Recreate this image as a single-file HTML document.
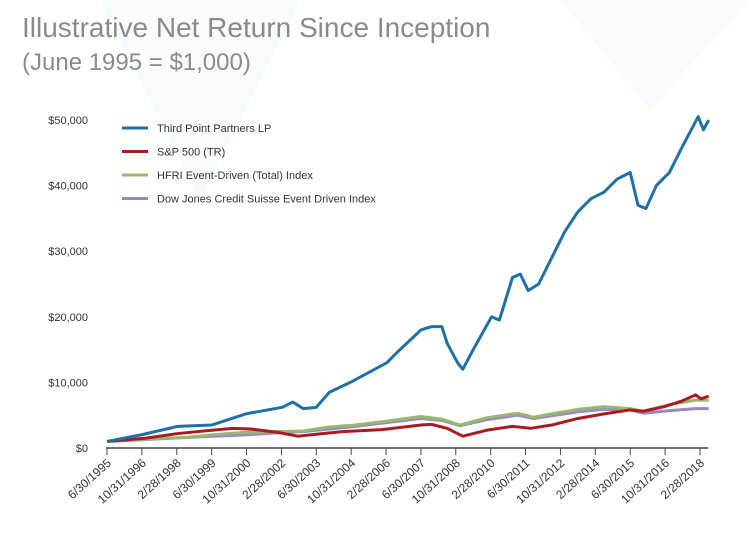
<!DOCTYPE html>
<html><head><meta charset="utf-8"><style>
body{margin:0;background:#fff;}
svg{display:block;font-family:"Liberation Sans",sans-serif;}
</style></head><body>
<svg id="c" width="749" height="533">
<polygon points="100,0 300,0 200,200" fill="#f3f7fb" opacity="0.6"/>
<polygon points="560,0 749,0 650,110" fill="#f3f7fb" opacity="0.6"/>
<text x="22" y="37" font-size="28" fill="#8a8a8a">Illustrative Net Return Since Inception</text>
<text x="22" y="70" font-size="24" fill="#8a8a8a">(June 1995 = $1,000)</text>
<g id="axes"></g><g id="lines"></g><g id="legend"></g>
</svg>
<script>
const yTicks=[0,10000,20000,30000,40000,50000];
const yTickLabels=["$0","$10,000","$20,000","$30,000","$40,000","$50,000"];
const xTickLabels=["6/30/1995","10/31/1996","2/28/1998","6/30/1999","10/31/2000","2/28/2002","6/30/2003","10/31/2004","2/28/2006","6/30/2007","10/31/2008","2/28/2010","6/30/2011","10/31/2012","2/28/2014","6/30/2015","10/31/2016","2/28/2018"];
const seriesNames=["Third Point Partners LP","S&P 500 (TR)","HFRI Event-Driven (Total) Index","Dow Jones Credit Suisse Event Driven Index"];
const tpDates=[1995.5,1996.8,1998.2,1999.5,2000.8,2002.2,2002.6,2003,2003.5,2004,2004.8,2005.5,2006.2,2006.7,2007.5,2007.9,2008.3,2008.5,2008.9,2009.1,2009.5,2010.2,2010.5,2011.0,2011.3,2011.6,2012,2012.5,2013,2013.5,2014,2014.5,2015,2015.5,2015.8,2016.1,2016.5,2017,2017.5,2017.9,2018.1,2018.3,2018.5];
const tpValues=[1000,2000,3300,3500,5200,6200,7000,6000,6200,8500,10000,11500,13000,15000,18000,18500,18500,16000,13000,12000,15000,20000,19500,26000,26500,24000,25000,29000,33000,36000,38000,39000,41000,42000,37000,36500,40000,42000,46000,49000,50500,48500,50000];
const spDates=[1995.5,1997,1998.2,1999.5,2000.3,2001,2002,2002.8,2003.5,2004.5,2006,2007.5,2007.9,2008.5,2009.1,2010,2011,2011.7,2012.5,2013.5,2014.5,2015.5,2016,2016.8,2017.5,2018.0,2018.2,2018.5];
const spValues=[1000,1500,2200,2700,3000,2900,2400,1800,2100,2500,2800,3500,3600,3000,1800,2700,3300,3000,3500,4500,5200,5800,5600,6300,7200,8100,7500,7900];
const hfDates=[1995.5,1997,1998.5,1999.5,2000.8,2002,2003,2004,2005,2006,2007.5,2008.3,2009.0,2010,2011.2,2011.8,2012.5,2013.5,2014.5,2015.5,2016,2017,2018,2018.5];
const hfValues=[1000,1400,1600,2000,2400,2500,2600,3200,3500,4000,4800,4400,3500,4600,5300,4700,5200,5900,6300,6000,5600,6600,7300,7300];
const djDates=[1995.5,1997,1999,2000.8,2002,2003,2005,2007.5,2008.3,2009,2010,2011.2,2011.8,2013.5,2014.5,2015.5,2016,2017,2018,2018.5];
const djValues=[1000,1300,1700,2000,2300,2500,3300,4500,4200,3400,4300,5000,4500,5500,5900,5800,5300,5700,6000,6000];
const NS="http://www.w3.org/2000/svg";
const x=d=>107+(d-1995.5)*12*2.18;
const y=v=>448-v*(328/50000);
function mk(t,a,p){const e=document.createElementNS(NS,t);for(const k in a)e.setAttribute(k,a[k]);p.appendChild(e);return e;}
const axes=document.getElementById('axes'),lines=document.getElementById('lines'),leg=document.getElementById('legend');
yTicks.forEach((v,i)=>{const t=mk('text',{x:88,y:y(v)+4,'font-size':11,fill:'#333','text-anchor':'end'},axes);t.textContent=yTickLabels[i];

});
const base=mk('line',{x1:106,x2:708,y1:448,y2:448,stroke:'#444','stroke-width':1.5},axes);


xTickLabels.forEach((l,i)=>{const xx=x(1995.5+i*16/12);
const tk=mk('line',{x1:xx,x2:xx,y1:448,y2:455,stroke:'#444'},axes);


const t=mk('text',{x:xx+5,y:464,'font-size':12,fill:'#333','text-anchor':'end',transform:`rotate(-42 ${xx+5} 464)`},axes);t.textContent=l;

});
const series=[[djDates,djValues,'#9b87c4'],[hfDates,hfValues,'#98b86e'],[spDates,spValues,'#a81c1f'],[tpDates,tpValues,'#1f6fa8']];
const names=['dj-credit-suisse-line','hfri-line','sp500-line','third-point-line'];
series.forEach((s,i)=>{const p=mk('polyline',{points:s[0].map((d,j)=>x(d)+','+y(s[1][j])).join(' '),fill:'none',stroke:s[2],'stroke-width':3,'stroke-linejoin':'round'},lines);

});
const legCols=['#1f6fa8','#a81c1f','#98b86e','#9b87c4'];
seriesNames.forEach((n,i)=>{const yy=128+i*23.5;
const l=mk('line',{x1:122,x2:148,y1:yy,y2:yy,stroke:legCols[i],'stroke-width':3},leg);


const t=mk('text',{x:157,y:yy+4,'font-size':11,fill:'#333'},leg);t.textContent=n;

});
</script>
</body></html>
